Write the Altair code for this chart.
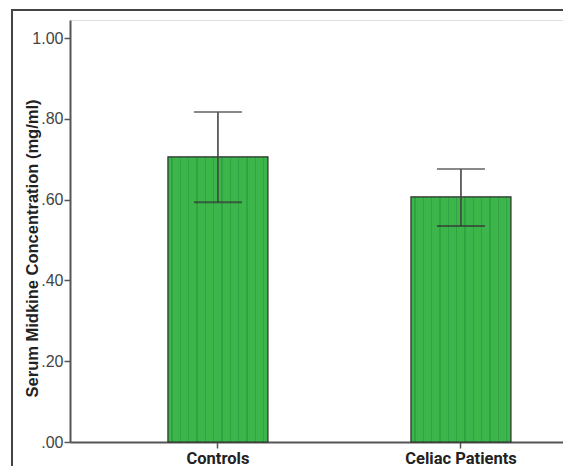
import altair as alt
import pandas as pd

groups = ["Controls", "Celiac Patients"]
means = [0.706, 0.607]
lower = [0.594, 0.535]
upper = [0.817, 0.676]
y_ticks = [0.0, 0.2, 0.4, 0.6, 0.8, 1.0]

df = pd.DataFrame({"group": groups, "mean": means, "lo": lower, "hi": upper})

BASE = "#3cb54b"
DOT = "#30a342"
stops = []
n_cols = 12
for k in range(n_cols):
    a = (k + 0.42) / n_cols
    b = (k + 0.58) / n_cols
    stops += [
        {"offset": a, "color": BASE},
        {"offset": a + 0.0001, "color": DOT},
        {"offset": b, "color": DOT},
        {"offset": b + 0.0001, "color": BASE},
    ]
stops = [{"offset": 0, "color": BASE}] + stops + [{"offset": 1, "color": BASE}]
fill = {"gradient": "linear", "x1": 0, "x2": 1, "y1": 0, "y2": 0, "stops": stops}

xscale = alt.Scale(domain=groups, paddingInner=0.5885, paddingOuter=0.3086, align=0.653)
yscale = alt.Scale(domain=[0, 1.045], nice=False)

x_enc = alt.X(
    "group:N",
    sort=groups,
    scale=xscale,
    title=None,
    axis=alt.Axis(
        labelAngle=0,
        labelFont="Roboto",
        labelFontWeight="bold",
        labelFontSize=16.5,
        labelColor="#222222",
        labelPadding=2,
        domainColor="#555555",
        domainWidth=2,
        tickColor="#555555",
        tickWidth=1.5,
        tickSize=6,
        grid=False,
    ),
)

bars = alt.Chart(df).mark_bar(
    color=fill, stroke="#2b2b2b", strokeWidth=1.2
).encode(
    x=x_enc,
    y=alt.Y(
        "mean:Q",
        scale=yscale,
        title="Serum Midkine Concentration (mg/ml)",
        axis=alt.Axis(
            values=y_ticks,
            labelExpr="datum.value < 1 ? substring(format(datum.value, '.2f'), 1) : format(datum.value, '.2f')",
            labelFont="Liberation Sans",
            labelFontSize=16,
            labelColor="#444444",
            labelPadding=1,
            titleFont="Liberation Sans",
            titleFontWeight="bold",
            titleFontSize=16.5,
            titleColor="#222222",
            titleX=-30,
            titleY=228,
            titleBaseline="bottom",
            domainColor="#555555",
            domainWidth=2,
            tickColor="#555555",
            tickWidth=1.5,
            tickSize=6,
            grid=False,
        ),
    ),
)

rule = alt.Chart(df).mark_rule(color="#444444", strokeWidth=1.6).encode(
    x=alt.X("group:N", sort=groups, scale=xscale),
    y=alt.Y("lo:Q", scale=yscale),
    y2="hi:Q",
)

caps_hi = alt.Chart(df).mark_tick(color="#555555", thickness=2, size=48).encode(
    x=alt.X("group:N", sort=groups, scale=xscale),
    y=alt.Y("hi:Q", scale=yscale),
)
caps_lo = alt.Chart(df).mark_tick(color="#333333", thickness=2, size=48).encode(
    x=alt.X("group:N", sort=groups, scale=xscale),
    y=alt.Y("lo:Q", scale=yscale),
)

frame_data = alt.Data(values=[{"k": 1}])
frame_left = alt.Chart(frame_data).mark_rule(color="#444444", strokeWidth=2).encode(
    x=alt.value(-58), y=alt.value(-10), y2=alt.value(470)
)
frame_top = alt.Chart(frame_data).mark_rule(color="#444444", strokeWidth=2).encode(
    x=alt.value(-59), x2=alt.value(520), y=alt.value(-10)
)

chart = alt.layer(bars, rule, caps_hi, caps_lo, frame_left, frame_top).properties(
    width=493,
    height=422,
    autosize=alt.AutoSizeParams(type="none"),
    padding={"left": 62, "top": 12, "right": 0, "bottom": 24},
).configure_view(stroke=None).configure(background="white")

chart.save("out.html", embed_options={"renderer": "svg", "actions": False})
